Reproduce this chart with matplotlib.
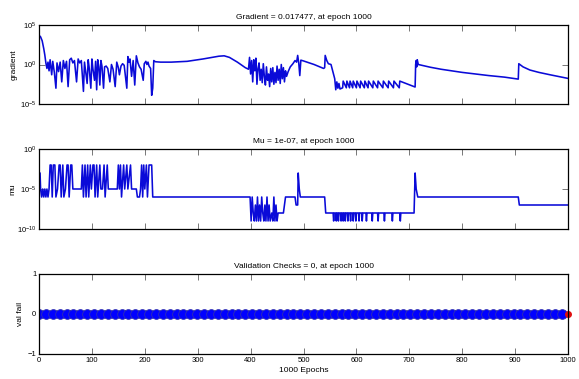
#!/usr/bin/env python3
"""Training record plot: gradient, mu and validation checks over 1000 epochs."""
import numpy as np
import matplotlib
matplotlib.use("Agg")
import matplotlib.pyplot as plt
from matplotlib.ticker import FixedLocator, NullLocator

plt.rcParams["font.family"] = ["Liberation Sans", "DejaVu Sans"]
plt.rcParams["mathtext.fontset"] = "custom"
plt.rcParams["mathtext.rm"] = "Liberation Sans"
plt.rcParams["mathtext.it"] = "Liberation Sans"

# gradient, log10 values at vertices
grad_epochs = [0, 3, 6, 9, 11, 13, 15, 17, 19, 21, 24, 26, 29, 32, 34, 37, 40, 43, 46, 49,
               52, 55, 58, 61, 64, 67, 71, 74, 77, 80, 84, 86, 88, 91, 93, 95, 98, 100, 102, 105,
               107, 109, 111, 113, 115, 117, 119, 122, 124, 127, 130, 134, 137, 140, 144, 147, 150, 152, 155, 158,
               161, 166, 168, 170, 172, 175, 178, 181, 184, 187, 190, 193, 197, 199, 202, 204, 206, 208, 211, 213,
               215, 217, 220, 230, 250, 280, 310, 340, 350, 360, 375, 390, 396,
               398, 400, 402, 404, 406, 408, 410, 412, 414, 416, 418, 420, 422, 424, 426, 428, 430, 432, 434, 436,
               438, 440, 442, 444, 446, 448, 450, 452, 454, 456, 458, 460, 462, 464, 466, 468, 471, 475, 480, 484,
               487, 489, 491, 493, 495, 500, 520, 538, 540, 541, 544, 547, 552, 556, 559, 561, 563, 565, 567, 569]
grad_log10 = [3.7, 3.5, 3.0, 2.0, 1.2, 0.2, -0.5, 0.3, -0.8, 0.6, -1.3, 0.4, -1.0, -3.0, 0.2, -0.9, 0.3, -2.2, 0.5, -0.5,
              0.4, -2.8, 0.6, 0.8, 0.2, 0.5, -2.2, 0.7, 0.2, 0.5, -3.4, 0.3, -0.8, -2.4, 0.6, -0.5, -3.0, 0.7, -0.6, -2.0,
              0.4, -3.2, 0.6, -0.3, -2.6, 0.5, -0.2, -3.0, -0.3, -0.2, -0.5, -2.2, 0.0, -0.6, -2.8, 0.3, -0.4, -1.3, -0.2, 0.1,
              -0.1, -3.0, 1.0, 0.3, 0.7, -1.5, 0.5, -2.6, 1.1, 0.2, -0.3, -0.6, -2.0, 0.1, 0.4, 0.0, 0.3, -0.2, -0.5, -3.9,
              -3.0, 0.5, 0.35, 0.3, 0.3, 0.4, 0.7, 1.05, 1.1, 0.9, 0.3, -0.4, -0.6,
              0.9, -1.2, 0.5, -2.2, 0.6, -0.8, 0.8, -2.5, -0.5, 0.2, -2.0, -0.6, -2.3, 0.1, -1.5, -2.6, -0.3, -2.0, -1.2, -2.8,
              -0.5, -2.2, -0.4, -2.5, -1.0, -2.3, -0.2, -2.0, -0.6, -2.4, 0.0, -1.8, -0.4, -2.2, -0.8, -1.5, -0.9, -0.3, 0.1, 0.5,
              0.3, 1.15, 0.2, -1.4, 0.55, 0.45, 0.0, -0.5, -0.4, 1.15, 0.5, 0.1, 0.0, -1.0, -1.8, -3.2, -2.2, -3.0, -2.4, -3.1]
# sawtooth section: tooth peak epochs, peak and trough levels
grad_teeth = [575, 582, 588, 594, 601, 608, 616, 623, 632, 641, 651, 661, 671, 682]
grad_tooth_peak = -2.1
grad_tooth_low = -2.95
grad_tail_epochs = [711, 712, 713, 714, 715, 717, 740, 760, 800, 850, 880, 906,
                    907, 915, 928, 945, 966, 985, 1000]
grad_tail_log10 = [-2.85, 0.0, 0.5, -0.3, 0.6, 0.0, -0.35, -0.6, -1.0, -1.4, -1.6, -1.85,
                   0.1, -0.3, -0.7, -1.0, -1.3, -1.55, -1.76]

# mu, log10 values at vertices
mu_epochs = [0, 2, 3, 5, 7, 9, 11, 13, 15, 17, 19, 21, 23, 25, 27, 30, 32, 35, 38, 40,
             42, 45, 47, 50, 53, 55, 57, 60, 62, 64, 80, 82, 84, 87, 89, 92, 94, 97, 99, 102,
             104, 106, 109, 111, 115, 117, 120, 123, 125, 129, 131, 148, 150, 152, 154, 156, 160, 162, 166, 168,
             173, 175, 184, 186, 190, 192, 194, 196, 198, 200, 203, 205, 208, 213, 215, 399,
             401, 403, 405, 407, 409, 411, 413, 415, 417, 419, 421, 423, 425, 427, 429, 431, 433, 435, 437, 440,
             442, 444, 446, 448, 450, 452, 455, 462, 464, 466, 484, 486, 489, 490, 492, 494, 540, 542]
mu_log10 = [-3, -3, -5, -6, -5, -6, -5, -6, -5, -6, -5, -2, -2, -6, -2, -2, -6, -5, -2, -2,
            -6, -2, -6, -5, -2, -2, -6, -2, -2, -5, -5, -2, -6, -2, -6, -2, -6, -2, -5, -2,
            -2, -6, -2, -6, -2, -5, -5, -2, -6, -2, -5, -5, -2, -5, -2, -6, -2, -5, -2, -5,
            -2, -5, -5, -6, -6, -5, -2, -6, -2, -5, -2, -6, -2, -2, -6, -6,
            -9, -6, -8, -9, -7, -9, -6, -9, -7, -9, -6, -8, -9, -7, -9, -6, -9, -7, -9, -8,
            -9, -6, -9, -7, -9, -8, -8, -8, -7, -6, -6, -7, -7, -3, -5, -6, -6, -8]
mu_dips = [556, 561, 565, 570, 574, 578, 583, 588, 593, 598, 604, 610, 618, 629, 640, 652, 667, 682]
mu_dip_base = -8
mu_dip_low = -9
mu_tail_epochs = [709, 711, 713, 716, 906, 908, 1000]
mu_tail_log10 = [-8, -3, -5, -6, -6, -7, -7]

# validation checks: 0 at every epoch
val_epochs = np.arange(0, 1001)
val_fail = np.zeros(1001)

# assemble the gradient and mu vertex lists
g_x = list(grad_epochs)
g_y = list(grad_log10)
for e in grad_teeth:
    g_x += [e - 1, e]
    g_y += [grad_tooth_low, grad_tooth_peak]
g_x += grad_tail_epochs
g_y += grad_tail_log10

m_x = list(mu_epochs)
m_y = list(mu_log10)
for e in mu_dips:
    m_x += [e, e + 1, e + 2]
    m_y += [mu_dip_base, mu_dip_low, mu_dip_base]
m_x += mu_tail_epochs
m_y += mu_tail_log10

BLUE = "#0a0ad8"
W, H = 579, 379
fig = plt.figure(figsize=(W / 100, H / 100), dpi=100)
left, width = 39 / W, 529 / W
boxes = [(25, 104), (149, 229), (274, 354)]
axes = [fig.add_axes([left, 1 - b / H, width, (b - t) / H]) for t, b in boxes]

for ax in axes:
    ax.set_xlim(0, 1000)
    ax.xaxis.set_major_locator(FixedLocator(range(0, 1001, 100)))
    ax.tick_params(axis="both", direction="in", length=4.5, width=0.7, color="#777777",
                   top=True, right=True, labelsize=5.5, pad=2)
    for s in ax.spines.values():
        s.set_linewidth(0.9)

ax1, ax2, ax3 = axes
ax1.plot(g_x, 10.0 ** np.array(g_y), color=BLUE, lw=1.15)
ax1.set_yscale("log")
ax1.set_ylim(1e-5, 1e5)
ax1.yaxis.set_major_locator(FixedLocator([1e-5, 1e0, 1e5]))
ax1.yaxis.set_minor_locator(NullLocator())
ax1.set_yticklabels([r"$10^{-5}$", r"$10^{0}$", r"$10^{5}$"])
ax1.set_xticklabels([])
ax1.set_ylabel("gradient", fontsize=6)
ax1.yaxis.set_label_coords(-0.04, 0.5)
ax1.set_title("Gradient = 0.017477, at epoch 1000", fontsize=6, pad=4)

ax2.plot(m_x, 10.0 ** np.array(m_y), color=BLUE, lw=1.15)
ax2.set_yscale("log")
ax2.set_ylim(1e-10, 1e0)
ax2.yaxis.set_major_locator(FixedLocator([1e-10, 1e-5, 1e0]))
ax2.yaxis.set_minor_locator(NullLocator())
ax2.set_yticklabels([r"$10^{-10}$", r"$10^{-5}$", r"$10^{0}$"])
ax2.set_xticklabels([])
ax2.set_ylabel("mu", fontsize=6)
ax2.yaxis.set_label_coords(-0.043, 0.5)
ax2.set_title("Mu = 1e-07, at epoch 1000", fontsize=6, pad=4)

ax3.plot(val_epochs, val_fail, color=BLUE, lw=1.0, marker="o", markevery=13,
         markersize=7, markerfacecolor="#0000ff", markeredgecolor="#3030b0", markeredgewidth=0.6)
ax3.plot([val_epochs[-1]], [val_fail[-1]], "o", color="#e01010", markersize=4, clip_on=False)
ax3.set_ylim(-1, 1)
ax3.yaxis.set_major_locator(FixedLocator([-1, 0, 1]))
ax3.set_ylabel("val fail", fontsize=6)
ax3.yaxis.set_label_coords(-0.028, 0.5)
ax3.set_xlabel("1000 Epochs", fontsize=6, labelpad=2)
ax3.set_title("Validation Checks = 0, at epoch 1000", fontsize=6, pad=4)

fig.savefig("out.png", dpi=100, facecolor="white")
